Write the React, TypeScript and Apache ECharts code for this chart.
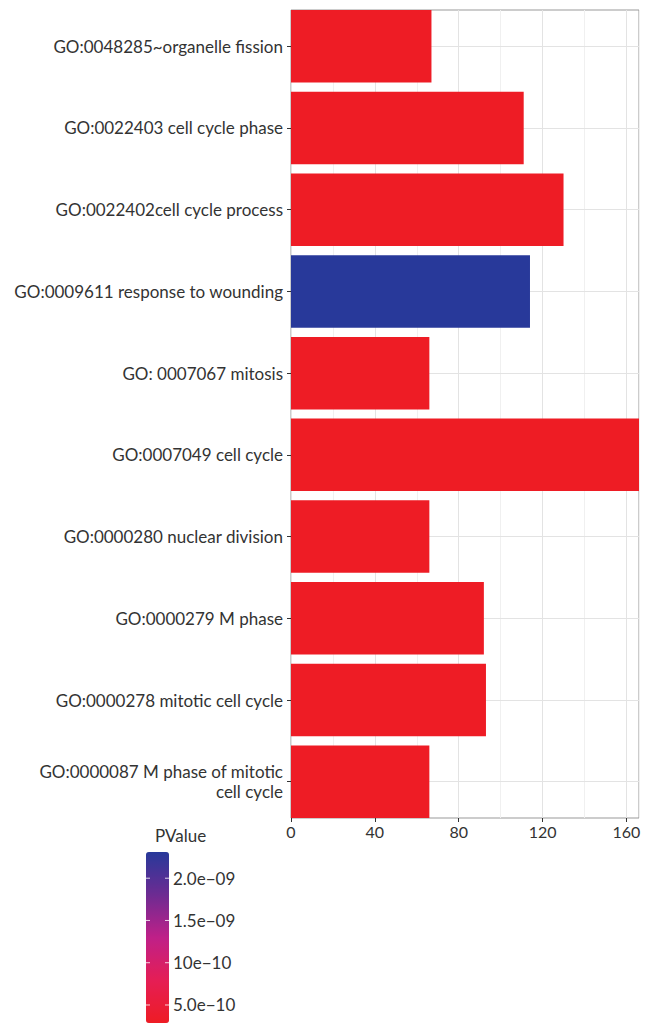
import React, { useEffect, useRef } from "react";
import * as echarts from "echarts";

const categories = [
  "GO:0048285~organelle fission",
  "GO:0022403 cell cycle phase",
  "GO:0022402cell cycle process",
  "GO:0009611 response to wounding",
  "GO: 0007067 mitosis",
  "GO:0007049 cell cycle",
  "GO:0000280 nuclear division",
  "GO:0000279 M phase",
  "GO:0000278 mitotic cell cycle",
  "GO:0000087 M phase of mitotic\ncell cycle",
];
const counts = [67, 111, 130, 114, 66, 166, 66, 92, 93, 66];
const pValues = [3.0e-10, 3.0e-10, 3.0e-10, 2.3e-9, 3.0e-10, 2.9e-10, 3.0e-10, 3.0e-10, 3.0e-10, 3.0e-10];

const xTicks = [0, 40, 80, 120, 160];
const xMax = 166;

const legendMin = 2.87e-10;
const legendMax = 2.31e-9;
const legendTicks = [5e-10, 1e-9, 1.5e-9, 2e-9];
const legendTickLabels = ["5.0e\u221210", "10e\u221210", "1.5e\u221209", "2.0e\u221209"];
const legendColors = ["#ee1c24", "#e51e55", "#bf2088", "#6d2b92", "#27399a"];

const FONT = "Lato";
const TEXT = "#333333";

export default function App() {
  const ref = useRef<HTMLDivElement>(null);
  useEffect(() => {
    document.body.style.margin = "0";
    const chart = echarts.init(ref.current!, null, { renderer: "svg" });

    const panel = { left: 291, right: 12, top: 10, bottom: 205 };
    const halfGap = 4.6;

    const barLeft = 146;
    const barTop = 852;
    const barW = 23;
    const barH = 171;
    const yOf = (v: number) => barTop + ((legendMax - v) / (legendMax - legendMin)) * barH;

    const graphics: any[] = [
      {
        type: "text",
        left: 155,
        top: 827,
        style: { text: "PValue", fill: TEXT, font: `17px ${FONT}` },
      },
    ];
    legendTicks.forEach((v, i) => {
      const y = yOf(v);
      graphics.push({
        type: "line",
        shape: { x1: barLeft, y1: y, x2: barLeft + 4, y2: y },
        style: { stroke: "#ffffff", lineWidth: 1, opacity: 0.8 },
        z: 100,
      });
      graphics.push({
        type: "line",
        shape: { x1: barLeft + barW - 4, y1: y, x2: barLeft + barW, y2: y },
        style: { stroke: "#ffffff", lineWidth: 1, opacity: 0.8 },
        z: 100,
      });
      graphics.push({
        type: "text",
        x: barLeft + barW + 4,
        y: y,
        style: {
          text: legendTickLabels[i],
          fill: TEXT,
          font: `17px ${FONT}`,
          verticalAlign: "middle",
          align: "left",
        },
      });
    });

    chart.setOption({
      animation: false,
      grid: [
        {
          left: panel.left,
          right: panel.right,
          top: panel.top - halfGap,
          bottom: panel.bottom - halfGap,
          show: false,
        },
        {
          left: panel.left,
          right: panel.right,
          top: panel.top,
          bottom: panel.bottom,
          show: true,
          borderColor: "#999999",
          borderWidth: 1,
          backgroundColor: "transparent",
        },
      ],
      xAxis: [
        {
          type: "value",
          gridIndex: 0,
          min: 0,
          max: xMax,
          interval: 40,
          offset: -halfGap,
          axisLine: { show: false },
          axisTick: { show: true, length: 4, lineStyle: { color: "#333333" }, customValues: xTicks },
          axisLabel: {
            color: TEXT,
            fontSize: 16,
            fontFamily: FONT,
            margin: 5,
            customValues: xTicks,
          },
          splitLine: { show: false },
        },
        {
          type: "value",
          gridIndex: 1,
          min: 0,
          max: xMax,
          interval: 20,
          axisLine: { show: false },
          axisTick: { show: false },
          axisLabel: { show: false },
          splitLine: { show: true, lineStyle: { color: ["#e3e3e3", "#f0f0f0"], width: 1 } },
        },
      ],
      yAxis: [
        {
          type: "category",
          gridIndex: 0,
          data: categories,
          inverse: true,
          axisLine: { show: false },
          axisTick: { show: true, alignWithLabel: true, length: 4, lineStyle: { color: "#333333" } },
          axisLabel: {
            color: TEXT,
            fontSize: 17,
            fontFamily: FONT,
            margin: 8,
            lineHeight: 20,
            align: "right",
          },
          splitLine: { show: false },
        },
        {
          type: "value",
          gridIndex: 1,
          min: 0,
          max: 1,
          show: false,
          splitLine: { show: false },
        },
      ],
      visualMap: {
        type: "continuous",
        show: true,
        seriesIndex: 0,
        dimension: 2,
        min: legendMin,
        max: legendMax,
        left: barLeft,
        top: barTop,
        padding: 0,
        itemWidth: barW,
        itemHeight: barH,
        calculable: false,
        showLabel: false,
        hoverLink: false,
        inRange: { color: legendColors },
      },
      graphic: graphics,
      series: [
        {
          type: "bar",
          xAxisIndex: 0,
          yAxisIndex: 0,
          barCategoryGap: "11.3%",
          encode: { x: 0, y: 1 },
          data: categories.map((c, i) => [counts[i], c, pValues[i]]),
          markLine: {
            silent: true,
            z: 1,
            symbol: "none",
            label: { show: false },
            animation: false,
            data: categories.map((c) => ({
              yAxis: c,
              lineStyle: { color: "#e3e3e3", width: 1, type: "solid" },
            })),
          },
        },
      ],
    });
    return () => chart.dispose();
  }, []);
  return <div ref={ref} style={{ position: "absolute", left: 0, top: 0, width: 651, height: 1023 }} />;
}
